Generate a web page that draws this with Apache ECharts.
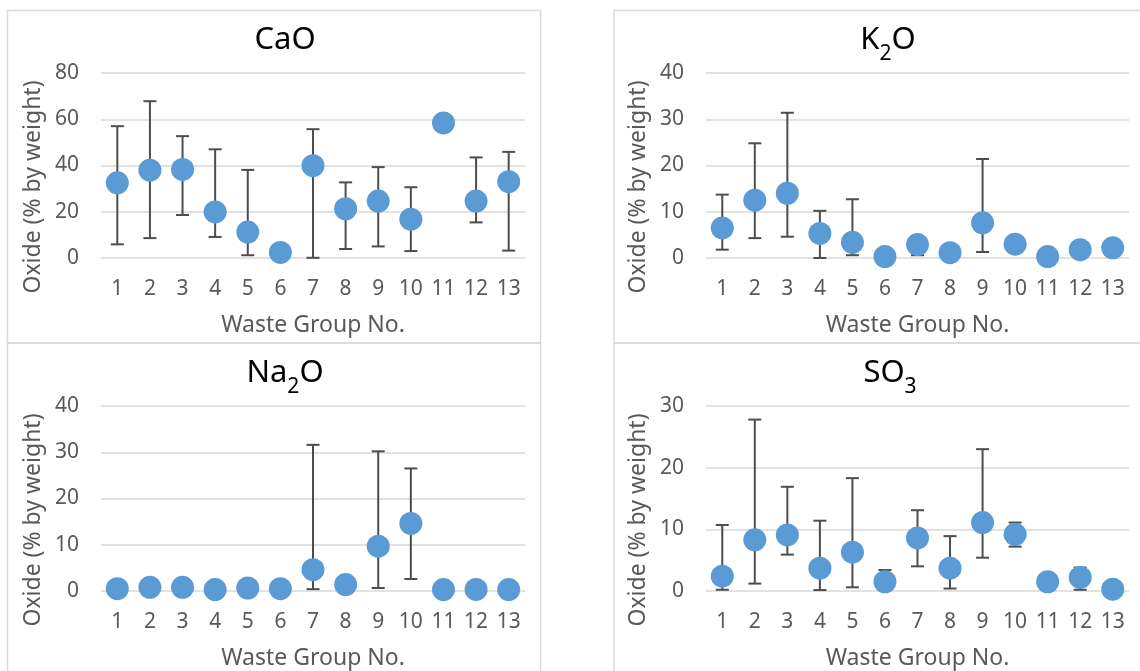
<!DOCTYPE html>
<html>
<head>
<meta charset="utf-8">
<script src="https://cdn.jsdelivr.net/npm/echarts@6/dist/echarts.min.js"></script>
<style>
html,body{margin:0;padding:0;background:#fff;}
#chart{width:1140px;height:671px;}
</style>
</head>
<body>
<div id="chart"></div>
<script>
const categories = ['1','2','3','4','5','6','7','8','9','10','11','12','13'];

const caoMean = [32.5, 38, 38.3, 19.9, 11.2, 2.4, 39.9, 21.3, 24.6, 16.8, 58.4, 24.6, 33];
const caoLow  = [5.9, 8.6, 18.6, 9.1, 1.2, null, 0.1, 3.9, 5, 3, null, 15.4, 3.2];
const caoHigh = [57, 67.8, 52.7, 47, 38.1, null, 55.7, 32.7, 39.3, 30.6, null, 43.5, 45.9];

const k2oMean = [6.5, 12.5, 14, 5.3, 3.4, 0.3, 2.9, 1.15, 7.6, 3.0, 0.3, 1.8, 2.2];
const k2oLow  = [1.8, 4.3, 4.6, 0, 0.6, null, 0.6, null, 1.3, null, null, null, null];
const k2oHigh = [13.7, 24.8, 31.4, 10.2, 12.7, null, 4.0, null, 21.4, null, null, null, null];

const na2oMean = [0.5, 0.8, 0.8, 0.3, 0.65, 0.5, 4.6, 1.4, 9.7, 14.6, 0.3, 0.35, 0.3];
const na2oLow  = [null, null, null, null, null, null, 0.4, null, 0.65, 2.6, null, null, null];
const na2oHigh = [null, null, null, null, null, null, 31.6, null, 30.2, 26.5, null, null, null];

const so3Mean = [2.4, 8.3, 9.1, 3.7, 6.3, 1.5, 8.6, 3.7, 11.1, 9.2, 1.5, 2.2, 0.3];
const so3Low  = [0.2, 1.2, 5.9, 0.15, 0.6, 0.3, 4, 0.4, 5.4, 7.2, null, 0.2, null];
const so3High = [10.7, 27.8, 16.9, 11.4, 18.3, 3.4, 13.1, 8.9, 23, 11.1, null, 3.8, null];

const yMax = [80, 40, 40, 30];
const yInterval = [20, 10, 10, 10];

const FONT = 'Noto Sans';
const TXT = '#595959';
const GRIDC = '#d9d9d9';
const DOT = '#5b9bd5';
const ERR = '#4d4d4d';

const chart = echarts.init(document.getElementById('chart'), null, {renderer: 'canvas'});

const grids = [
  {left: 101, top: 73, width: 424, height: 185},
  {left: 706, top: 73, width: 423, height: 185},
  {left: 101, top: 406, width: 424, height: 185},
  {left: 706, top: 406, width: 423, height: 185}
];

const means = [caoMean, k2oMean, na2oMean, so3Mean];
const lows = [caoLow, k2oLow, na2oLow, so3Low];
const highs = [caoHigh, k2oHigh, na2oHigh, so3High];

function errData(low, high) {
  const out = [];
  for (let i = 0; i < categories.length; i++) {
    if (low[i] !== null && high[i] !== null) out.push([i, low[i], high[i]]);
  }
  return out;
}

function renderErr(params, api) {
  const lo = api.coord([api.value(0), api.value(1)]);
  const hi = api.coord([api.value(0), api.value(2)]);
  const hw = 6.5;
  const st = {stroke: ERR, lineWidth: 2};
  return {
    type: 'group',
    children: [
      {type: 'line', shape: {x1: hi[0], y1: hi[1], x2: lo[0], y2: lo[1]}, style: st},
      {type: 'line', shape: {x1: hi[0] - hw, y1: hi[1], x2: hi[0] + hw, y2: hi[1]}, style: st},
      {type: 'line', shape: {x1: lo[0] - hw, y1: lo[1], x2: lo[0] + hw, y2: lo[1]}, style: st}
    ]
  };
}

const xAxes = grids.map((g, i) => ({
  type: 'category', gridIndex: i, data: categories, boundaryGap: true,
  axisLine: {show: false}, axisTick: {show: false},
  axisLabel: {color: TXT, fontFamily: FONT, fontSize: 21, margin: 21},
  name: 'Waste Group No.', nameLocation: 'middle', nameGap: 56,
  nameTextStyle: {color: TXT, fontFamily: FONT, fontSize: 23}
}));

const yAxes = grids.map((g, i) => ({
  type: 'value', gridIndex: i, min: 0, max: yMax[i], interval: yInterval[i],
  axisLine: {show: false}, axisTick: {show: false},
  splitLine: {lineStyle: {color: GRIDC, width: 1.5}},
  axisLabel: {color: TXT, fontFamily: FONT, fontSize: 21, margin: 22},
  name: 'Oxide (% by weight)', nameLocation: 'middle', nameGap: 56,
  nameTextStyle: {color: TXT, fontFamily: FONT, fontSize: 23, padding: [0, 43, 0, 0]}
}));

const series = [];
for (let i = 0; i < 4; i++) {
  series.push({
    type: 'custom', xAxisIndex: i, yAxisIndex: i,
    renderItem: renderErr, data: errData(lows[i], highs[i]),
    encode: {x: 0, y: [1, 2]}, z: 2, silent: true
  });
  series.push({
    type: 'scatter', xAxisIndex: i, yAxisIndex: i,
    data: means[i], symbol: 'circle', symbolSize: 23,
    itemStyle: {color: DOT, opacity: 1}, z: 3
  });
}

const mainStyle = {fontSize: 31, fontFamily: FONT, color: TXT, lineHeight: 36, verticalAlign: 'middle'};
const subStyle = {fontSize: 21, fontFamily: FONT, color: TXT, lineHeight: 50, verticalAlign: 'bottom'};

function titleText(x, y, txt) {
  return {
    type: 'text', x: x, y: y, z: 10,
    style: {text: txt, align: 'center', verticalAlign: 'middle',
      rich: {m: mainStyle, s: subStyle}}
  };
}

const borderStyle = {stroke: GRIDC, lineWidth: 1.5, fill: null};
const graphic = [
  {type: 'rect', shape: {x: 7.5, y: 10.5, width: 533, height: 332.5}, style: borderStyle, silent: true},
  {type: 'rect', shape: {x: 614, y: 10.5, width: 540, height: 332.5}, style: borderStyle, silent: true},
  {type: 'rect', shape: {x: 7.5, y: 343, width: 533, height: 340}, style: borderStyle, silent: true},
  {type: 'rect', shape: {x: 614, y: 343, width: 540, height: 340}, style: borderStyle, silent: true},
  titleText(285, 40, '{m|CaO}'),
  titleText(888, 40, '{m|K}{s|2}{m|O}'),
  titleText(285, 373, '{m|Na}{s|2}{m|O}'),
  titleText(890, 373, '{m|SO}{s|3}')
];

chart.setOption({
  animation: false,
  backgroundColor: '#ffffff',
  textStyle: {fontFamily: FONT},
  grid: grids,
  xAxis: xAxes,
  yAxis: yAxes,
  series: series,
  graphic: graphic
});
</script>
</body>
</html>
